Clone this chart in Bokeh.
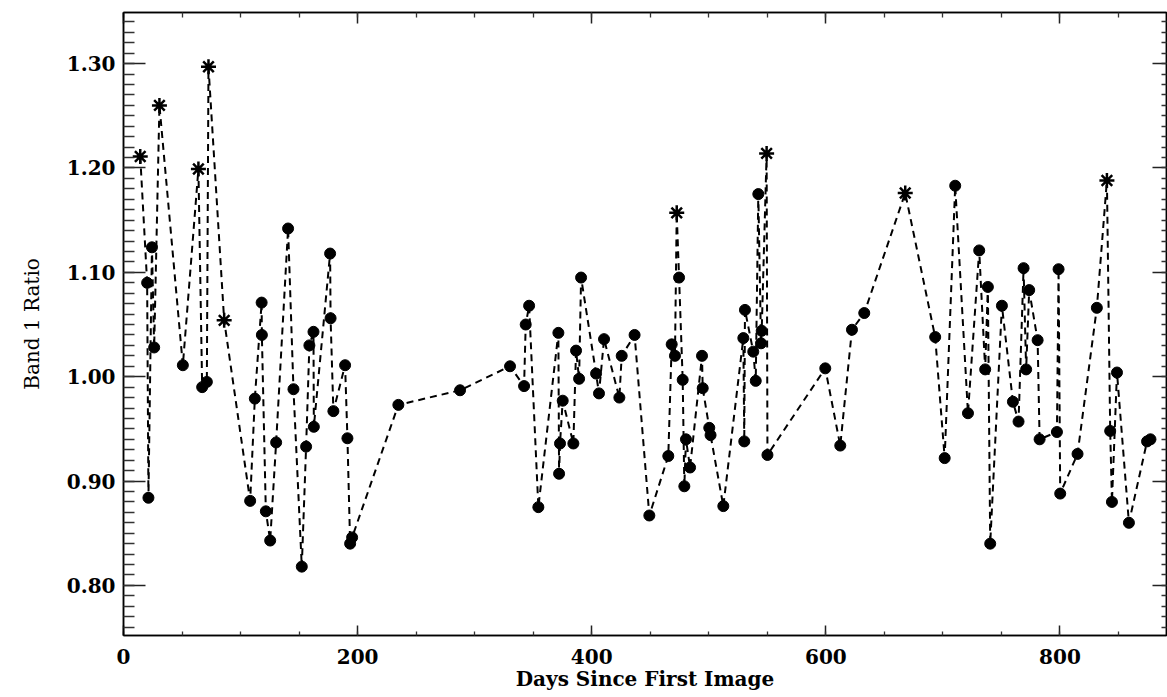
from bokeh.plotting import figure
from bokeh.models import LinearAxis, FixedTicker
from bokeh.embed import file_html
from bokeh.resources import INLINE

# ---- data ----
days = [14.3, 20.2, 21.3, 24.3, 26.2, 30.7, 50.7, 64.0, 67.2, 71.2, 72.6, 86.0,
        108.2, 112.2, 118.0, 118.2, 121.6, 125.3, 130.4, 140.6, 145.2, 152.3,
        156.0, 158.8, 162.3, 162.6, 176.5, 176.9, 179.3, 189.3, 191.3, 193.6,
        195.3, 234.8, 287.5, 330.2, 342.2, 343.6, 346.5, 354.4, 371.5, 372.1,
        372.9, 375.2, 384.3, 386.6, 389.2, 390.9, 403.7, 406.2, 410.5, 423.6,
        425.6, 436.6, 449.2, 465.4, 468.3, 471.1, 472.6, 474.6, 477.7, 479.1,
        480.5, 484.0, 494.2, 494.8, 500.4, 501.5, 512.4, 529.5, 530.3, 530.9,
        538.0, 540.1, 542.3, 544.6, 545.2, 549.4, 550.1, 599.5, 612.3, 622.3,
        632.8, 667.8, 693.4, 701.5, 710.5, 721.4, 731.0, 736.1, 738.4, 740.4,
        750.4, 759.8, 764.6, 768.9, 771.1, 773.7, 780.9, 782.6, 797.4, 798.8,
        800.2, 815.0, 831.5, 840.1, 842.9, 844.4, 848.7, 858.9, 874.4, 877.3]
ratios = [1.211, 1.090, 0.884, 1.124, 1.028, 1.260, 1.011, 1.199, 0.990, 0.995, 1.297, 1.054,
          0.881, 0.979, 1.071, 1.040, 0.871, 0.843, 0.937, 1.142, 0.988, 0.818,
          0.933, 1.030, 1.043, 0.952, 1.118, 1.056, 0.967, 1.011, 0.941, 0.840,
          0.846, 0.973, 0.987, 1.010, 0.991, 1.050, 1.068, 0.875, 1.042, 0.907,
          0.936, 0.977, 0.936, 1.025, 0.998, 1.095, 1.003, 0.984, 1.036, 0.980,
          1.020, 1.040, 0.867, 0.924, 1.031, 1.020, 1.157, 1.095, 0.997, 0.895,
          0.940, 0.913, 1.020, 0.989, 0.951, 0.944, 0.876, 1.037, 0.938, 1.064,
          1.024, 0.996, 1.175, 1.032, 1.044, 1.214, 0.925, 1.008, 0.934, 1.045,
          1.061, 1.176, 1.038, 0.922, 1.183, 0.965, 1.121, 1.007, 1.086, 0.840,
          1.068, 0.976, 0.957, 1.104, 1.007, 1.083, 1.035, 0.940, 0.947, 1.103,
          0.888, 0.926, 1.066, 1.188, 0.948, 0.880, 1.004, 0.860, 0.938, 0.940]
asterisk_days = [14.3, 30.7, 64.0, 72.6, 86.0, 472.6, 549.4, 667.8, 840.1]

x_tick_values = [0, 200, 400, 600, 800]
x_tick_labels = ["0", "200", "400", "600", "800"]
y_tick_values = [0.8, 0.9, 1.0, 1.1, 1.2, 1.3]
y_tick_labels = ["0.80", "0.90", "1.00", "1.10", "1.20", "1.30"]
x_minor = [i * 50 for i in range(0, 18)]
y_minor = [round(0.75 + i * 0.01, 2) for i in range(0, 61)]

x_label = "Days Since First Image"
y_label = "Band 1 Ratio"

# ---- split markers ----
circ_x = [d for d in days if d not in asterisk_days]
circ_y = [r for d, r in zip(days, ratios) if d not in asterisk_days]
ast_x = [d for d in days if d in asterisk_days]
ast_y = [r for d, r in zip(days, ratios) if d in asterisk_days]

p = figure(width=1167, height=697, x_range=(0, 891), y_range=(0.752, 1.349),
           output_backend="svg", toolbar_location=None,
           min_border_left=123, min_border_right=1, min_border_top=12, min_border_bottom=62,
           background_fill_color="white", border_fill_color="white")
p.title.visible = False
p.xgrid.visible = False
p.ygrid.visible = False
p.outline_line_color = "black"
p.outline_line_width = 1.5

p.line(days, ratios, line_color="black", line_width=2, line_dash="7 5")
p.scatter(circ_x, circ_y, marker="circle", size=11, fill_color="black", line_color="black")
p.scatter(ast_x, ast_y, marker="asterisk", size=15, line_color="black", line_width=2.5)

FONT = "DejaVu Serif"

xt = FixedTicker(ticks=x_tick_values, minor_ticks=x_minor)
yt = FixedTicker(ticks=y_tick_values, minor_ticks=y_minor)

xa = p.xaxis[0]
xa.ticker = xt
xa.major_label_overrides = {v: l for v, l in zip(x_tick_values, x_tick_labels)}
xa.axis_label = x_label

ya = p.yaxis[0]
ya.ticker = yt
ya.major_label_overrides = {v: l for v, l in zip(y_tick_values, y_tick_labels)}
ya.axis_label = y_label

def style(ax, tin, mtin):
    ax.axis_line_color = "black"
    ax.axis_line_width = 1.5
    ax.major_tick_in = tin
    ax.major_tick_out = 0
    ax.minor_tick_in = mtin
    ax.minor_tick_out = 0
    ax.major_tick_line_color = "#222222"
    ax.minor_tick_line_color = "#333333"
    ax.major_tick_line_width = 1.5
    ax.minor_tick_line_width = 1.3
    ax.major_label_text_font = FONT
    ax.major_label_text_font_style = "bold"
    ax.major_label_text_font_size = "20px"
    ax.major_label_text_color = "black"
    ax.axis_label_text_font = FONT
    ax.axis_label_text_color = "black"

style(xa, 10, 4)
xa.major_label_standoff = 13
xa.axis_label_text_font_style = "bold"
xa.axis_label_text_font_size = "20px"
xa.axis_label_standoff = 0

style(ya, 22, 11)
ya.major_label_standoff = 8
ya.axis_label_text_font_style = "normal"
ya.axis_label_text_font_size = "20px"
ya.axis_label_standoff = 20

top = LinearAxis(ticker=xt)
style(top, 11, 5)
top.major_label_text_color = None
top.major_label_text_font_size = "0px"
top.major_label_standoff = 0
p.add_layout(top, "above")

right = LinearAxis(ticker=yt)
style(right, 14, 5)
right.major_label_text_color = None
right.major_label_text_font_size = "0px"
right.major_label_standoff = 0
p.add_layout(right, "right")

open("out.html", "w").write(file_html(p, INLINE))
